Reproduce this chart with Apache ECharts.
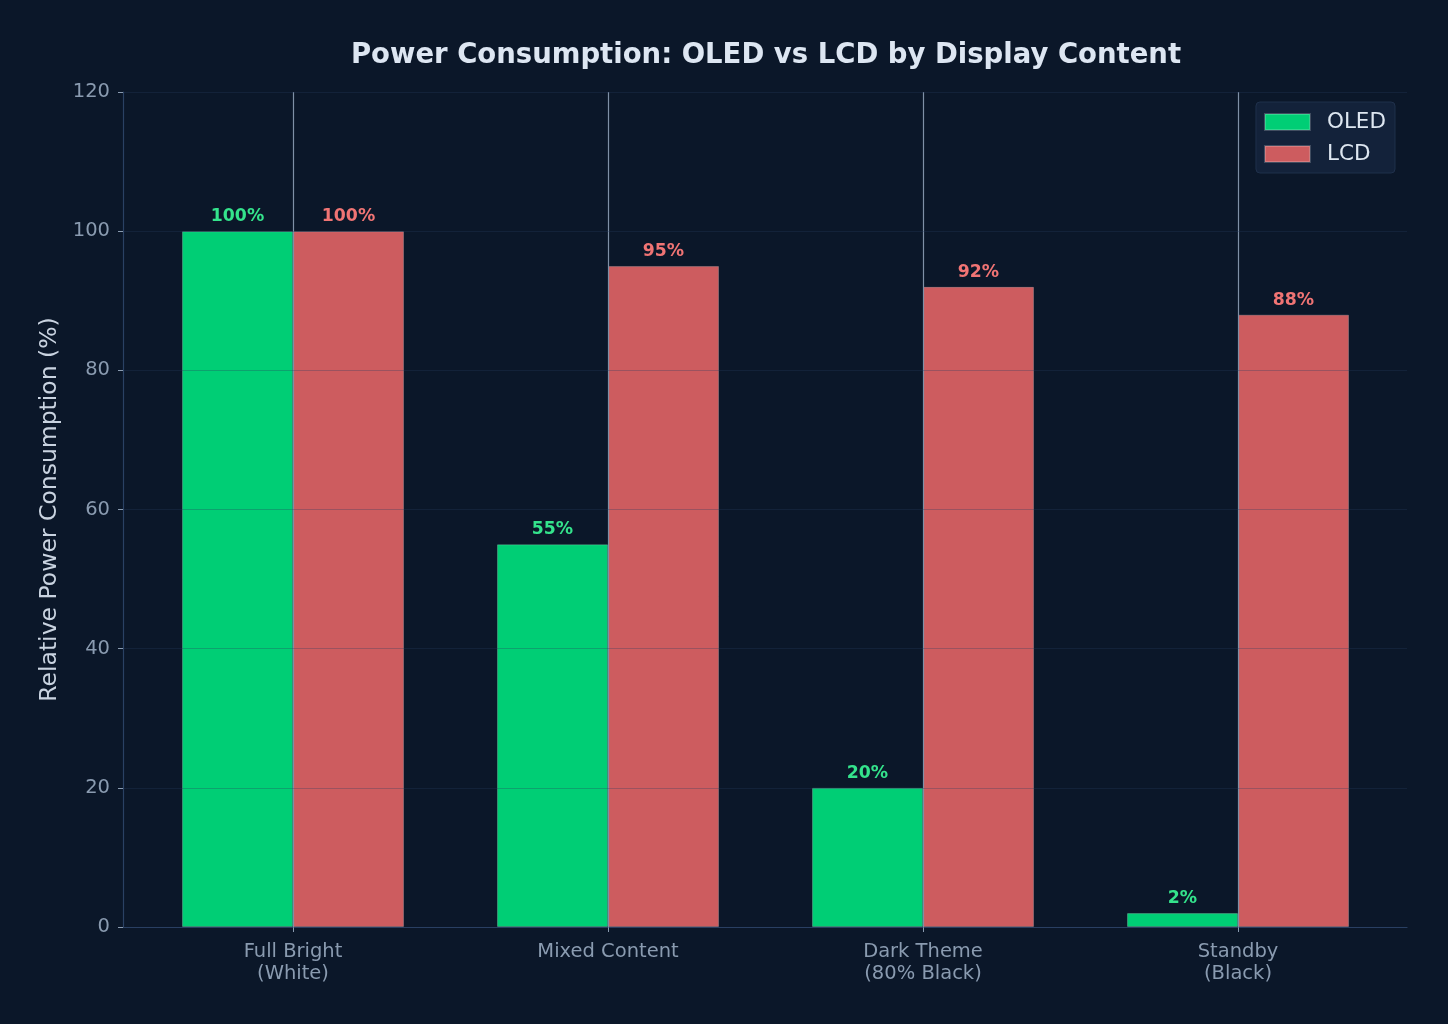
<!DOCTYPE html>
<html>
<head>
<meta charset="utf-8">
<script src="https://cdn.jsdelivr.net/npm/echarts@6/dist/echarts.min.js"></script>
<style>
html,body{margin:0;padding:0;background:#0b1729;}
#chart{width:1448px;height:1024px;}
</style>
</head>
<body>
<div id="chart"></div>
<script>
const categories = ['Full Bright\n(White)', 'Mixed Content', 'Dark Theme\n(80% Black)', 'Standby\n(Black)'];
const oledValues = [100, 55, 20, 2];
const lcdValues = [100, 95, 92, 88];
const yTicks = [0, 20, 40, 60, 80, 100, 120];

const FONT = 'DejaVu Sans';
const chart = echarts.init(document.getElementById('chart'), null, {renderer: 'canvas'});

const gridTop = 92, gridBottom = 1024 - 927;
const option = {
  backgroundColor: '#0b1729',
  animation: false,
  title: {
    text: 'Power Consumption: OLED vs LCD by Display Content',
    left: 761, top: 37, textAlign: 'center',
    textStyle: {fontFamily: FONT, fontSize: 27.5, fontWeight: 'bold', color: '#dde6f2'}
  },
  legend: {
    data: ['OLED', 'LCD'],
    orient: 'vertical',
    right: 53, top: 102,
    itemWidth: 45, itemHeight: 16, itemGap: 10,
    icon: 'rect',
    backgroundColor: '#13223a',
    borderColor: '#1f304b', borderWidth: 1, borderRadius: 4,
    padding: [9, 9, 8, 8],
    textStyle: {fontFamily: FONT, fontSize: 21.5, color: '#dde6f0', padding: [0, 0, 0, 12]}
  },
  grid: [
    {left: 123, right: 1448 - 1407, top: gridTop, bottom: gridBottom},
    {left: 135.5, width: 1260, top: gridTop, bottom: gridBottom}
  ],
  xAxis: [
    {
      gridIndex: 0, type: 'value', min: 0, max: 1,
      axisLine: {show: true, onZero: false, lineStyle: {color: '#2a4163', width: 1.2}},
      axisTick: {show: false}, axisLabel: {show: false}, splitLine: {show: false}
    },
    {
      gridIndex: 1, type: 'category', data: categories,
      axisLine: {show: false},
      axisTick: {show: true, alignWithLabel: true, length: 5, lineStyle: {color: '#8a9bb0'}},
      axisLabel: {fontFamily: FONT, fontSize: 19.5, color: '#8a9bb0', lineHeight: 22, margin: 14},
      splitLine: {show: false}
    }
  ],
  yAxis: [
    {
      gridIndex: 0, type: 'value', min: yTicks[0], max: yTicks[yTicks.length - 1], interval: 20, z: 10,
      name: 'Relative Power Consumption (%)', nameLocation: 'middle', nameGap: 59,
      nameTextStyle: {fontFamily: FONT, fontSize: 23.5, color: '#c9d3e0'},
      axisLine: {show: true, lineStyle: {color: '#2a4163', width: 1.2}},
      axisTick: {show: true, length: 5, lineStyle: {color: '#8a9bb0'}},
      axisLabel: {fontFamily: FONT, fontSize: 19.5, color: '#8a9bb0', margin: 13, padding: [3, 0, 0, 0]},
      splitLine: {show: true, lineStyle: {color: 'rgba(40,60,95,0.3)', width: 1}}
    },
    {
      gridIndex: 1, type: 'value', min: yTicks[0], max: yTicks[yTicks.length - 1], interval: 20, show: false,
      splitLine: {show: false}
    }
  ],
  series: [
    {
      name: 'OLED', type: 'bar', xAxisIndex: 1, yAxisIndex: 1,
      data: oledValues, barWidth: 111, barGap: '0%',
      itemStyle: {color: '#00ce75', borderColor: 'rgba(255,255,255,0.2)', borderWidth: 1},
      label: {show: true, position: 'top', distance: 6, formatter: p => p.value + '%',
        fontFamily: FONT, fontSize: 17.3, fontWeight: 'bold', color: '#34e38c'}
    },
    {
      name: 'LCD', type: 'bar', xAxisIndex: 1, yAxisIndex: 1,
      data: lcdValues, barWidth: 111, barGap: '0%',
      itemStyle: {color: '#cd5c5f', borderColor: 'rgba(255,255,255,0.2)', borderWidth: 1},
      label: {show: true, position: 'top', distance: 6, formatter: p => p.value + '%',
        fontFamily: FONT, fontSize: 17.3, fontWeight: 'bold', color: '#f07474'}
    },
    {
      name: 'centerLines', type: 'line', xAxisIndex: 1, yAxisIndex: 1,
      data: [], silent: true, z: 1,
      markLine: {
        silent: true, symbol: 'none', label: {show: false},
        lineStyle: {color: '#7f90a6', width: 1.2, type: 'solid'},
        data: categories.map(c => ({xAxis: c}))
      }
    }
  ]
};
chart.setOption(option);
</script>
</body>
</html>
